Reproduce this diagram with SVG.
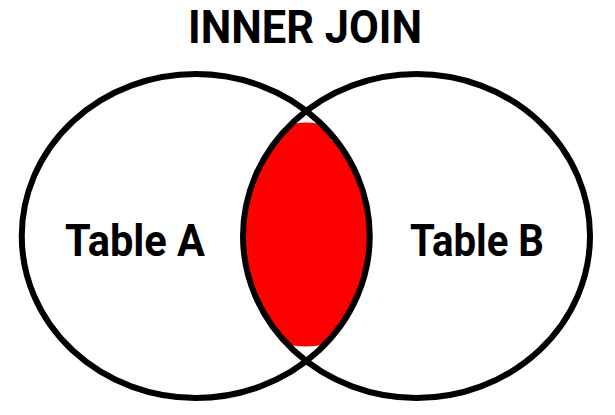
<svg xmlns="http://www.w3.org/2000/svg" width="615" height="415" viewBox="0 0 615 415">
<style>
.set{fill:none;stroke:#000;stroke-width:6}
.lbl{font-family:Roboto,"Liberation Sans",sans-serif;font-weight:bold;fill:#000;text-anchor:middle}
</style>
<defs>
<clipPath id="clipA"><ellipse cx="195.75" cy="236" rx="174" ry="162"/></clipPath>
<clipPath id="clipCap">
<path d="M281 140 Q281 122.5 306 122.5 Q331 122.5 331 140 L440 200 L440 272 L331 335 Q331 346.5 306 346.5 Q281 346.5 281 335 L172 272 L172 200 Z"/>
</clipPath>
</defs>
<rect width="615" height="415" fill="#fff"/>
<g id="intersection" clip-path="url(#clipCap)">
<ellipse cx="416.5" cy="236" rx="173.5" ry="162" fill="#ff0000" clip-path="url(#clipA)"/>
</g>
<g id="tableA">
<ellipse class="set" cx="195.75" cy="236" rx="174" ry="162"/>
<text class="lbl" x="135" y="256" font-size="44" textLength="140" lengthAdjust="spacingAndGlyphs">Table A</text>
</g>
<g id="tableB">
<ellipse class="set" cx="416.5" cy="236" rx="173.5" ry="162"/>
<text class="lbl" x="477" y="256" font-size="44" textLength="134" lengthAdjust="spacingAndGlyphs">Table B</text>
</g>
<g id="title">
<text class="lbl" x="305" y="43" font-size="46" textLength="234" lengthAdjust="spacingAndGlyphs">INNER JOIN</text>
</g>
<g id="connectors"/>
</svg>
